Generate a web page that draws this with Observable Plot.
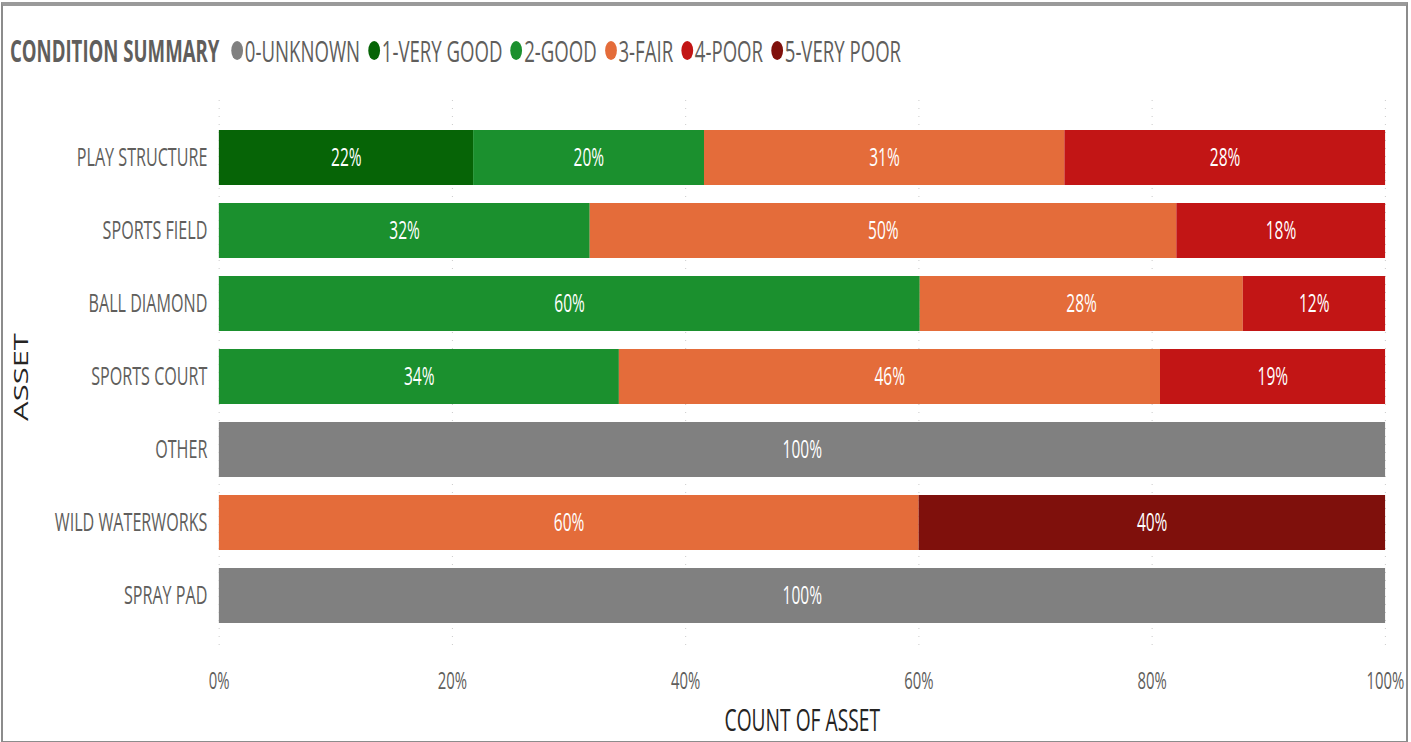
<!DOCTYPE html>
<html>
<head>
<meta charset="utf-8">
<script src="https://cdn.jsdelivr.net/npm/d3@7"></script>
<script src="https://cdn.jsdelivr.net/npm/@observablehq/plot@0.6"></script>
<style>
  html, body { margin: 0; padding: 0; background: #fff; }
  body { width: 1411px; height: 742px; overflow: hidden; position: relative; font-family: "Open Sans", sans-serif; }
  #frame { position: absolute; left: 1px; top: 2px; width: 1403px; height: 735px; border: 2px solid #8c8c8c; border-top: 4px solid #9a9a9a; pointer-events: none; }
  #wrap { position: absolute; left: 0; top: 0; transform-origin: 0 0; }
  #legend { height: 90px; padding-top: 10px; box-sizing: border-box; display: flex; align-items: center; padding-left: 16px; font-size: 30px; color: #605e5c; white-space: nowrap; }
  #legend .title { font-weight: 700; color: #605e5c; margin-right: 19px; }
  #legend .item { display: flex; align-items: center; margin-right: 13px; }
  #legend .dot { width: 19px; height: 19px; border-radius: 50%; margin-right: 3px; }
</style>
</head>
<body>
<div id="wrap">
  <div id="legend"></div>
  <div id="chart"></div>
</div>
<div id="frame"></div>
<script>
// ---- data ----
const assets = ["PLAY STRUCTURE", "SPORTS FIELD", "BALL DIAMOND", "SPORTS COURT", "OTHER", "WILD WATERWORKS", "SPRAY PAD"];
const conditions = ["0-UNKNOWN", "1-VERY GOOD", "2-GOOD", "3-FAIR", "4-POOR", "5-VERY POOR"];
const conditionColors = ["#808080", "#066406", "#1b902e", "#e46c3a", "#c21515", "#7f100c"];
// percent of assets per condition, in the order of `assets`
const unknownPct  = [0, 0, 0, 0, 100, 0, 100];
const veryGoodPct = [21.8, 0, 0, 0, 0, 0, 0];
const goodPct     = [19.8, 31.8, 60.1, 34.3, 0, 0, 0];
const fairPct     = [30.9, 50.3, 27.7, 46.4, 0, 60, 0];
const poorPct     = [27.5, 17.9, 12.2, 19.3, 0, 0, 0];
const veryPoorPct = [0, 0, 0, 0, 0, 40, 0];
const xTicks = [0, 20, 40, 60, 80, 100];
const legendTitle = "CONDITION SUMMARY";
const xLabel = "COUNT OF ASSET";
const yLabel = "ASSET";

const series = [unknownPct, veryGoodPct, goodPct, fairPct, poorPct, veryPoorPct];
const data = [];
assets.forEach((a, i) => {
  conditions.forEach((c, j) => {
    const v = series[j][i];
    if (v > 0) data.push({asset: a, condition: c, value: v});
  });
});

// ---- layout (the reference is horizontally compressed) ----
const S = 0.62;
const W = Math.round(1411 / S);
const wrap = document.getElementById("wrap");
wrap.style.width = W + "px";
wrap.style.transform = `scaleX(${S})`;

// legend
const legend = document.getElementById("legend");
const t = document.createElement("span");
t.className = "title"; t.textContent = legendTitle;
legend.appendChild(t);
conditions.forEach((c, j) => {
  const it = document.createElement("span"); it.className = "item";
  const d = document.createElement("span"); d.className = "dot"; d.style.background = conditionColors[j];
  const l = document.createElement("span"); l.textContent = c;
  it.appendChild(d); it.appendChild(l); legend.appendChild(it);
});

const chart = Plot.plot({
  width: W,
  height: 648,
  marginLeft: 353,
  marginRight: 42,
  marginTop: 20,
  marginBottom: 95,
  style: {fontFamily: "Open Sans, sans-serif", fontSize: "24px", color: "#605e5c", background: "transparent", overflow: "visible"},
  x: {domain: [0, 100]},
  y: {domain: assets, padding: 0.25},
  color: {domain: conditions, range: conditionColors},
  marks: [
    Plot.gridX(xTicks, {stroke: "#bdbdbd", strokeOpacity: 1, strokeDasharray: "1,7", insetTop: -10, insetBottom: -8}),
    Plot.barX(data, Plot.stackX({x: "value", y: "asset", fill: "condition", order: conditions})),
    Plot.text(data, Plot.stackX({x: "value", y: "asset", z: "condition", order: conditions, text: d => Math.round(d.value) + "%", fill: "white", fontSize: 25})),
    Plot.axisX({ticks: xTicks, tickSize: 0, tickPadding: 28, tickFormat: d => d + "%", label: xLabel, labelArrow: "none", labelAnchor: "center", labelOffset: 87, fontSize: 24}),
    Plot.axisY({tickSize: 0, tickPadding: 19, label: yLabel, labelAnchor: "center", labelOffset: 331, fontSize: 26})
  ]
});
document.getElementById("chart").appendChild(chart);
// axis titles darker and larger
chart.querySelectorAll('[aria-label="x-axis label"] text, [aria-label="y-axis label"] text').forEach(el => {
  el.setAttribute("fill", "#252423");
  el.style.fontSize = "31px";
  el.textContent = el.textContent.replace(/[→←↑↓]/g, "").trim();
});
</script>
</body>
</html>
